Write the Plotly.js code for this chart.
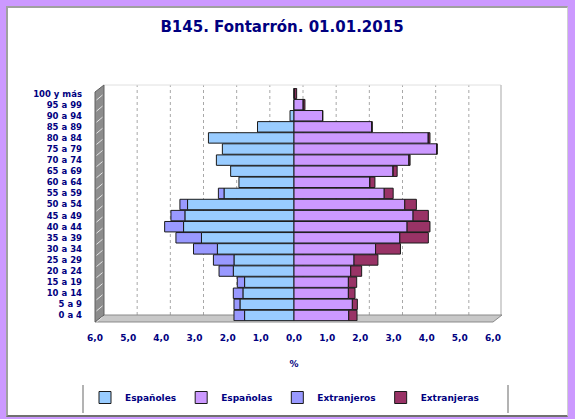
<!DOCTYPE html>
<html>
<head>
<meta charset="utf-8">
<script src="https://cdn.plot.ly/plotly-3.0.1.min.js"></script>
<style>
  html, body { margin: 0; padding: 0; background: #cc99ff; width: 575px; height: 419px; overflow: hidden; }
  #panel { position: absolute; left: 6px; top: 6px; width: 559px; height: 407px; background: #ffffff;
           border-top: 2px solid #a0a0a0; border-left: 2px solid #a0a0a0; border-bottom: 2px solid #707070; border-right: 1px solid #d0d0d0; }
  #chart { position: absolute; left: 0; top: 0; width: 575px; height: 419px; }
</style>
</head>
<body>
<div id="panel"></div>
<div id="chart"></div>
<script>
// ---- data (bottom to top) ----
const grupos = ["0 a 4","5 a 9","10 a 14","15 a 19","20 a 24","25 a 29","30 a 34","35 a 39","40 a 44","45 a 49","50 a 54","55 a 59","60 a 64","65 a 69","70 a 74","75 a 79","80 a 84","85 a 89","90 a 94","95 a 99","100 y más"];
const espanoles   = [1.49, 1.63, 1.54, 1.49, 1.83, 1.81, 2.31, 2.79, 3.33, 3.29, 3.21, 2.11, 1.66, 1.91, 2.34, 2.16, 2.58, 1.10, 0.12, 0.00, 0.00];
const espanolas   = [1.65, 1.76, 1.64, 1.64, 1.71, 1.81, 2.46, 3.19, 3.41, 3.59, 3.34, 2.72, 2.29, 2.99, 3.47, 4.30, 4.05, 2.34, 0.86, 0.28, 0.02];
const extranjeros = [0.32, 0.18, 0.29, 0.22, 0.43, 0.62, 0.72, 0.77, 0.57, 0.42, 0.23, 0.17, 0.00, 0.00, 0.00, 0.00, 0.00, 0.00, 0.00, 0.00, 0.00];
const extranjeras = [0.25, 0.15, 0.20, 0.25, 0.33, 0.72, 0.75, 0.86, 0.69, 0.46, 0.35, 0.27, 0.15, 0.12, 0.03, 0.02, 0.05, 0.02, 0.01, 0.05, 0.06];
const tickVals  = [-6,-5,-4,-3,-2,-1,0,1,2,3,4,5,6];
const tickTexts = ["6,0","5,0","4,0","3,0","2,0","1,0","0,0","1,0","2,0","3,0","4,0","5,0","6,0"];

const FONT = '"DejaVu Sans", Verdana, sans-serif';
const NAVY = '#000080';
const outline = {color: '#1a1a1a', width: 1};

const traces = [
  {type:'bar', orientation:'h', name:'Españoles', y:grupos, x:espanoles.map(v=>-v),
   marker:{color:'#99ccff', line:outline}},
  {type:'bar', orientation:'h', name:'Españolas', y:grupos, x:espanolas,
   marker:{color:'#cc99ff', line:outline}},
  {type:'bar', orientation:'h', name:'Extranjeros', y:grupos, x:extranjeros.map(v=>-v),
   marker:{color:'#9999ff', line:outline}},
  {type:'bar', orientation:'h', name:'Extranjeras', y:grupos, x:extranjeras,
   marker:{color:'#993366', line:outline}}
];

// plot area in pixels
const L = 95, R = 493, T = 88, Bt = 321;
const px = x => (x - L) / (R - L);
const py = y => (Bt - y) / (Bt - T);
const P = (pts) => 'M' + pts.map(p => px(p[0]).toFixed(5) + ',' + py(p[1]).toFixed(5)).join(' L') + ' Z';
const unit = (R - L) / 12;
const shapes = [];
// back-wall grid lines (offset for depth)
tickVals.slice(1, -1).forEach(v => {
  const xx = L + (v + 6) * unit + 9;
  shapes.push({type:'line', xref:'paper', yref:'paper', x0:px(xx), x1:px(xx), y0:py(315), y1:py(85),
               line:{color:'#a8a8a8', width:1, dash:'dot'}, layer:'below'});
});
// back wall top & right edge
shapes.push({type:'line', xref:'paper', yref:'paper', x0:px(104), x1:px(501), y0:py(85), y1:py(85), line:{color:'#e0e0e0', width:1}, layer:'below'});
shapes.push({type:'line', xref:'paper', yref:'paper', x0:px(501), x1:px(501), y0:py(85), y1:py(315), line:{color:'#c4c4c4', width:1.5}, layer:'below'});
// floor
shapes.push({type:'path', xref:'paper', yref:'paper', path:P([[95,322],[104,315],[502,315],[493,322]]),
             fillcolor:'#c8c8c8', line:{color:'#8a8a8a', width:1}, layer:'below'});
// left wall
shapes.push({type:'path', xref:'paper', yref:'paper', path:P([[95,92],[104,85],[104,315],[95,322]]),
             fillcolor:'#8c8c8c', line:{color:'#606060', width:1}, layer:'below'});
for (let k = 0; k < 21; k++) {
  const yy = 97 + k * 11.1;
  shapes.push({type:'line', xref:'paper', yref:'paper', x0:px(96.5), x1:px(102.5), y0:py(yy + 3), y1:py(yy - 2),
               line:{color:'#e6e6e6', width:1}, layer:'below'});
}
// legend frame sides
[83, 508].forEach(xx => shapes.push({type:'line', xref:'paper', yref:'paper', x0:px(xx), x1:px(xx), y0:py(385), y1:py(413),
             line:{color:'#9a9a9a', width:1.5}}));

const layout = {
  width: 575, height: 419,
  margin: {l: L, r: 575 - R, t: T, b: 419 - Bt, pad: 0, autoexpand: false},
  paper_bgcolor: 'rgba(0,0,0,0)', plot_bgcolor: 'rgba(0,0,0,0)',
  barmode: 'relative', bargap: 0.06,
  showlegend: true,
  font: {family: FONT, color: NAVY},
  title: {text: 'B145. Fontarrón. 01.01.2015', font: {family: FONT, size: 15, color: NAVY, weight: 'bold'},
          xref: 'container', x: 282/575, xanchor: 'center', yref: 'container', y: 1 - 27/419, yanchor: 'middle'},
  xaxis: {range: [-6, 6], tickvals: tickVals, ticktext: tickTexts, showgrid: false, zeroline: false,
          showline: false, ticks: '', ticklabelstandoff: 10, automargin: false,
          tickfont: {family: FONT, size: 9, color: NAVY, weight: 'bold'},
          title: {text: '%', font: {family: FONT, size: 9, color: NAVY, weight: 'bold'}, standoff: 18}, fixedrange: true},
  yaxis: {type: 'category', categoryorder: 'array', categoryarray: grupos, tickmode: 'array', tickvals: grupos, ticktext: grupos,
          showgrid: false, zeroline: false, automargin: false,
          showline: false, ticks: '', ticklabelstandoff: 12,
          tickfont: {family: FONT, size: 8.5, color: NAVY, weight: 'bold'}, fixedrange: true},
  legend: {orientation: 'h', xref: 'paper', x: px(85), xanchor: 'left', yref: 'paper', y: py(383), yanchor: 'top',
           font: {family: FONT, size: 9, color: NAVY, weight: 'bold'}, bgcolor: 'rgba(0,0,0,0)', traceorder: 'normal'},
  shapes: shapes
};

Plotly.newPlot('chart', traces, layout, {displayModeBar: false, staticPlot: true});
</script>
</body>
</html>
